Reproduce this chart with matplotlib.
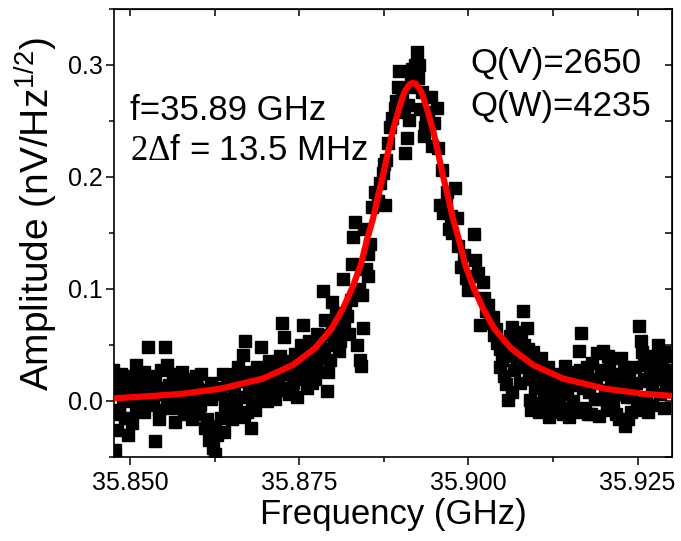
import matplotlib
matplotlib.use('Agg')
import matplotlib.pyplot as plt
from matplotlib.ticker import MultipleLocator, FormatStrFormatter

plt.rcParams['font.family'] = ['Liberation Sans', 'DejaVu Sans']
plt.rcParams['mathtext.fontset'] = 'custom'
plt.rcParams['mathtext.rm'] = 'Liberation Serif'
plt.rcParams['mathtext.sf'] = 'Liberation Sans'

# measured points (GHz, nV/Hz^1/2)
freq = [35.8475, 35.8478, 35.8480, 35.8481, 35.8483, 35.8486, 35.8489, 35.8492, 35.8495, 35.8497,
        35.8500, 35.8503, 35.8506, 35.8509, 35.8512, 35.8515, 35.8518, 35.8521, 35.8524, 35.8527,
        35.8530, 35.8533, 35.8536, 35.8539, 35.8542, 35.8545, 35.8548, 35.8551, 35.8554, 35.8557,
        35.8560, 35.8563, 35.8566, 35.8569, 35.8571, 35.8574, 35.8577, 35.8580, 35.8583, 35.8586,
        35.8589, 35.8592, 35.8595, 35.8598, 35.8601, 35.8604, 35.8607, 35.8610, 35.8613, 35.8616,
        35.8619, 35.8622, 35.8625, 35.8628, 35.8631, 35.8634, 35.8637, 35.8640, 35.8643, 35.8645,
        35.8648, 35.8651, 35.8654, 35.8657, 35.8660, 35.8663, 35.8666, 35.8669, 35.8672, 35.8675,
        35.8678, 35.8681, 35.8684, 35.8687, 35.8690, 35.8693, 35.8696, 35.8699, 35.8702, 35.8705,
        35.8708, 35.8711, 35.8714, 35.8717, 35.8719, 35.8722, 35.8725, 35.8728, 35.8731, 35.8734,
        35.8737, 35.8740, 35.8743, 35.8746, 35.8749, 35.8752, 35.8755, 35.8758, 35.8761, 35.8764,
        35.8767, 35.8770, 35.8773, 35.8776, 35.8779, 35.8782, 35.8785, 35.8788, 35.8791, 35.8793,
        35.8796, 35.8799, 35.8802, 35.8805, 35.8808, 35.8811, 35.8814, 35.8817, 35.8820, 35.8823,
        35.8826, 35.8828, 35.8829, 35.8832, 35.8835, 35.8838, 35.8839, 35.8841, 35.8842, 35.8844,
        35.8845, 35.8848, 35.8851, 35.8852, 35.8854, 35.8857, 35.8862, 35.8866, 35.8870, 35.8873,
        35.8876, 35.8878, 35.8881, 35.8884, 35.8887, 35.8891, 35.8896, 35.8897, 35.8902, 35.8906,
        35.8909, 35.8910, 35.8912, 35.8915, 35.8918, 35.8921, 35.8922, 35.8924, 35.8925, 35.8928,
        35.8931, 35.8934, 35.8936, 35.8940, 35.8944, 35.8949, 35.8953, 35.8955, 35.8958, 35.8961,
        35.8962, 35.8968, 35.8971, 35.8974, 35.8980, 35.8983, 35.8984, 35.8989, 35.8993, 35.8999,
        35.9004, 35.9008, 35.9010, 35.9014, 35.9017, 35.9021, 35.9026, 35.9029, 35.9032, 35.9036,
        35.9038, 35.9042, 35.9047, 35.9050, 35.9052, 35.9055, 35.9057, 35.9058, 35.9061, 35.9064,
        35.9067, 35.9069, 35.9072, 35.9075, 35.9078, 35.9081, 35.9084, 35.9087, 35.9088, 35.9090,
        35.9091, 35.9092, 35.9095, 35.9098, 35.9101, 35.9104, 35.9107, 35.9110, 35.9113, 35.9116,
        35.9119, 35.9122, 35.9125, 35.9128, 35.9131, 35.9134, 35.9137, 35.9140, 35.9143, 35.9146,
        35.9149, 35.9152, 35.9155, 35.9158, 35.9161, 35.9164, 35.9167, 35.9169, 35.9172, 35.9175,
        35.9178, 35.9181, 35.9184, 35.9187, 35.9190, 35.9193, 35.9196, 35.9199, 35.9202, 35.9205,
        35.9208, 35.9211, 35.9214, 35.9217, 35.9220, 35.9223, 35.9226, 35.9229, 35.9232, 35.9235,
        35.9238, 35.9240, 35.9243, 35.9246, 35.9249, 35.9252, 35.9255, 35.9257, 35.9260, 35.9263,
        35.9266, 35.9269, 35.9272, 35.9275, 35.9277, 35.9280, 35.9283, 35.9286, 35.9289, 35.9292,
        35.9295, 35.9298,
        # points in between, where the band is densest
        35.8478, 35.8484, 35.8490, 35.8496, 35.8502, 35.8508, 35.8514, 35.8520, 35.8526, 35.8532,
        35.8537, 35.8543, 35.8549, 35.8555, 35.8561, 35.8567, 35.8573, 35.8579, 35.8585, 35.8591,
        35.8597, 35.8603, 35.8609, 35.8614, 35.8620, 35.8626, 35.8632, 35.8638, 35.8644, 35.8650,
        35.8656, 35.8662, 35.8668, 35.8674, 35.8680, 35.8685, 35.8691, 35.8697, 35.8703, 35.8709,
        35.8715, 35.8721, 35.8727, 35.8733, 35.8739, 35.8745, 35.8751, 35.8757, 35.8762, 35.8768,
        35.8774, 35.8780, 35.8786, 35.8792, 35.8798, 35.8804, 35.8810, 35.8816,
        35.8875, 35.8893, 35.8905, 35.8917, 35.8927, 35.8937, 35.8946, 35.8967, 35.8975, 35.8996,
        35.9023, 35.9041,
        35.9046, 35.9053, 35.9059, 35.9065, 35.9070, 35.9076, 35.9082, 35.9089, 35.9094, 35.9100,
        35.9106, 35.9112, 35.9118, 35.9124, 35.9130, 35.9135, 35.9141, 35.9147, 35.9153, 35.9159,
        35.9165, 35.9171, 35.9177, 35.9183, 35.9189, 35.9195, 35.9201, 35.9206, 35.9212, 35.9218,
        35.9224, 35.9230, 35.9236, 35.9242, 35.9248, 35.9254, 35.9260, 35.9266, 35.9272, 35.9278,
        35.9283, 35.9289, 35.9295]
amp = [0.028, -0.044, 0.010, -0.026, -0.008, 0.024, 0.004, -0.015, 0.018, -0.030,
       0.006, -0.020, 0.012, 0.032, -0.008, 0.020, 0.002, -0.010, 0.015, 0.048,
       0.022, -0.004, -0.036, 0.010, -0.016, 0.028, 0.006, 0.048, 0.032, 0.014,
       -0.006, 0.022, -0.019, 0.008, 0.018, -0.002, 0.026, 0.010, -0.010, 0.020,
       0.016, 0.002, -0.006, 0.012, -0.012, 0.024, 0.004, -0.024, 0.010, -0.035,
       0.016, -0.042, -0.047, -0.030, 0.006, -0.015, 0.024, -0.004, 0.014, -0.010,
       0.020, 0.002, 0.012, -0.006, 0.030, 0.018, 0.041, 0.054, -0.010, 0.008,
       -0.024, 0.020, -0.008, 0.030, 0.004, 0.048, 0.014, 0.026, 0.000, 0.036,
       0.010, 0.022, 0.002, 0.032, 0.016, 0.040, 0.070, 0.057, 0.024, 0.006,
       0.036, 0.016, 0.042, 0.004, 0.028, 0.050, 0.068, 0.038, 0.012, 0.054,
       0.032, 0.044, 0.020, 0.060, 0.038, 0.046, 0.098, 0.072, 0.009, 0.059,
       0.037, 0.088, 0.050, 0.062, 0.045, 0.070, 0.109, 0.079, 0.076, 0.060,
       0.090, 0.122, 0.146, 0.160, 0.050, 0.100, 0.037, 0.031, 0.095, 0.065,
       0.154, 0.118, 0.131, 0.112, 0.140, 0.173, 0.187, 0.179, 0.195, 0.204,
       0.175, 0.215, 0.230, 0.245, 0.253, 0.262, 0.280, 0.295, 0.270, 0.221,
       0.235, 0.264, 0.251, 0.285, 0.280, 0.300, 0.293, 0.312, 0.288, 0.261,
       0.276, 0.237, 0.245, 0.258, 0.271, 0.248, 0.262, 0.226, 0.175, 0.206,
       0.168, 0.187, 0.154, 0.165, 0.190, 0.163, 0.138, 0.120, 0.130, 0.099,
       0.112, 0.149, 0.126, 0.114, 0.068, 0.106, 0.080, 0.086, 0.070, 0.075,
       0.059, 0.052, 0.046, 0.037, 0.040, 0.015, 0.044, 0.001, 0.058, 0.066,
       0.028, 0.054, 0.030, 0.040, 0.062, 0.080, 0.034, 0.065, 0.046, 0.023,
       0.001, -0.008, 0.044, 0.012, 0.030, -0.010, 0.038, 0.018, -0.004, 0.024,
       -0.014, 0.008, 0.020, -0.010, 0.014, 0.002, 0.022, -0.012, 0.031, 0.006,
       -0.014, 0.018, 0.000, 0.026, -0.010, 0.045, 0.061, 0.012, -0.006, 0.030,
       0.008, -0.012, 0.020, 0.002, 0.043, -0.013, 0.028, 0.045, 0.010, -0.008,
       0.030, 0.016, -0.004, 0.024, 0.006, -0.016, 0.038, 0.020, -0.022, 0.004,
       0.026, -0.010, 0.014, 0.030, -0.002, 0.067, 0.054, 0.044, 0.020, 0.002,
       -0.010, 0.030, 0.014, 0.040, 0.022, 0.050, 0.006, 0.036, 0.044, 0.016,
       0.028, 0.010,
       0.016, -0.012, 0.020, 0.000, 0.022, -0.004, 0.010, 0.026, -0.002, 0.008,
       0.018, -0.008, 0.012, 0.000, 0.010, 0.024, 0.004, -0.012, 0.006, -0.016,
       0.022, -0.004, 0.010, -0.016, 0.002, -0.022, 0.012, -0.028, 0.002, -0.016,
       0.024, 0.004, -0.014, 0.026, -0.002, 0.012, 0.022, 0.004, 0.016, 0.032,
       0.010, 0.024, 0.012, 0.030, 0.008, 0.020, 0.034, 0.022, 0.044, 0.016,
       0.030, 0.052, 0.040, 0.026, 0.066, 0.078, 0.054, 0.068,
       0.212, 0.268, 0.258, 0.296, 0.300, 0.250, 0.228, 0.175, 0.150, 0.110,
       0.092, 0.064,
       0.030, 0.022, 0.050, 0.008, 0.042, 0.016, 0.050, 0.032, 0.020, -0.002,
       0.024, 0.008, 0.030, -0.004, 0.024, -0.008, 0.012, 0.024, -0.006, 0.014,
       0.028, 0.020, -0.012, 0.034, 0.016, 0.002, 0.024, 0.040, 0.002, -0.012,
       0.014, 0.030, -0.016, 0.004, 0.016, -0.008, 0.032, 0.018, -0.004, 0.030,
       0.020, -0.006, 0.040]

# fitted curve
fit_freq = [35.8476, 35.8534, 35.8578, 35.8634, 35.8696, 35.8740, 35.8773, 35.8797, 35.8814, 35.8829,
            35.8841, 35.8851, 35.8859, 35.8866, 35.8874, 35.8881, 35.8888, 35.8896, 35.8903, 35.8907,
            35.8911, 35.8914, 35.8918, 35.8922, 35.8925, 35.8929, 35.8933, 35.8940, 35.8948, 35.8955,
            35.8962, 35.8970, 35.8977, 35.8985, 35.8995, 35.9007, 35.9022, 35.9039, 35.9063, 35.9096,
            35.9140, 35.9202, 35.9258, 35.9301]
fit_amp = [0.0024, 0.0045, 0.0065, 0.011, 0.020, 0.032, 0.047, 0.064, 0.082, 0.102,
           0.122, 0.146, 0.163, 0.182, 0.202, 0.222, 0.241, 0.258, 0.272, 0.2775,
           0.281, 0.2832, 0.284, 0.2832, 0.281, 0.2775, 0.272, 0.258, 0.241, 0.222,
           0.202, 0.182, 0.163, 0.146, 0.122, 0.102, 0.082, 0.064, 0.047, 0.032,
           0.020, 0.011, 0.0065, 0.0045]

fig = plt.figure(figsize=(6.81, 5.41), dpi=100)
ax = fig.add_axes([0.1674, 0.1553, 0.8194, 0.8281])

ax.plot(freq, amp, 's', color='black', ms=8, mew=1, zorder=2)
ax.plot(fit_freq, fit_amp, '-', color='red', lw=4.5, zorder=3)

ax.set_xlim(35.8476, 35.9301)
ax.set_ylim(-0.05, 0.35)

ax.xaxis.set_major_locator(MultipleLocator(0.025))
ax.xaxis.set_minor_locator(MultipleLocator(0.0125))
ax.yaxis.set_major_locator(MultipleLocator(0.1))
ax.yaxis.set_minor_locator(MultipleLocator(0.05))
ax.xaxis.set_major_formatter(FormatStrFormatter('%.3f'))
ax.yaxis.set_major_formatter(FormatStrFormatter('%.1f'))
ax.tick_params(which='major', direction='out', length=6, width=1.1, labelsize=18)
ax.tick_params(which='minor', direction='out', length=3.5, width=1.1)
ax.tick_params(axis='x', pad=4)
ax.tick_params(axis='y', pad=2)
for sp in ax.spines.values():
    sp.set_linewidth(1.2)

# inward ticks on top and right
top = ax.secondary_xaxis('top')
top.xaxis.set_major_locator(MultipleLocator(0.025))
top.xaxis.set_minor_locator(MultipleLocator(0.0125))
top.tick_params(which='both', direction='in', length=5, width=1.1, labeltop=False)
right = ax.secondary_yaxis('right')
right.yaxis.set_major_locator(MultipleLocator(0.1))
right.yaxis.set_minor_locator(MultipleLocator(0.05))
right.tick_params(which='both', direction='in', length=5, width=1.1, labelright=False)

ax.set_xlabel('Frequency (GHz)', fontsize=25, labelpad=2)
ax.set_ylabel('Amplitude (nV/Hz$^{\\mathsf{1/2}}$)', fontsize=28)
ax.yaxis.set_label_coords(-0.097, 0.543)

ax.text(0.029, 0.752, 'f=35.89 GHz', transform=ax.transAxes, fontsize=25, va='baseline')
ax.text(0.029, 0.663, '$\\mathrm{2\\Delta}$f = 13.5 MHz', transform=ax.transAxes, fontsize=25, va='baseline')
ax.text(0.638, 0.857, 'Q(V)=2650', transform=ax.transAxes, fontsize=25, va='baseline')
ax.text(0.638, 0.761, 'Q(W)=4235', transform=ax.transAxes, fontsize=25, va='baseline')

fig.savefig('out.png', dpi=100)
